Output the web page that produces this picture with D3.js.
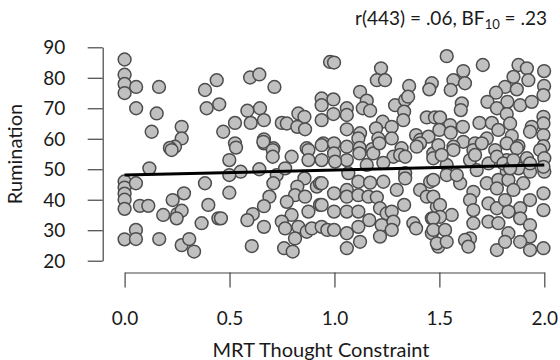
<!DOCTYPE html>
<html>
<head>
<meta charset="utf-8">
<script src="https://cdn.jsdelivr.net/npm/d3@7"></script>
<style>
  html, body { margin: 0; padding: 0; background: #fff; }
  svg { display: block; }
  text { font-family: "Lato", "Open Sans", sans-serif; fill: #1a1a1a; }
</style>
</head>
<body>
<svg id="chart" width="560" height="360"></svg>
<script>
// MRT Thought Constraint (x) values
const mrt = [
  0,0,0,0,0,0,0,0,0,0,
  0.055,0.164,0.055,0.153,0.129,0.272,0.272,0.24,0.216,0.224,0.383,0.391,
  0.118,0.054,0.073,0.113,0.184,0.229,0.283,0.251,0.272,0.248,0.383,0.399,0.367,0.447,0.054,0.054,0.165,0.272,0.308,0.331,
  0.439,0.598,0.642,0.714,0.451,0.585,0.645,0.526,0.601,0.664,0.47,0.749,0.773,0.828,0.857,0.823,0.86,0.526,0.664,0.664,0.709,0.868,0.939,0.939,0.939,0.947,0.979,
  0.531,0.661,0.706,0.706,0.796,0.876,0.876,0.939,0.939,0.499,0.553,0.499,0.642,0.725,0.765,0.709,0.857,0.823,0.916,0.931,0.69,0.812,0.86,0.499,0.664,0.773,0.931,0.611,0.585,0.459,0.796,0.876,0.749,0.765,0.664,0.828,0.812,0.868,0.892,0.939,0.606,0.76,0.801,0.966,
  0.998,1.222,1.202,1.241,1.356,1.464,1.452,1.122,0.995,1.154,1.135,1.17,1.289,1.337,1.351,1.332,1.328,1.059,1.059,0.995,1.23,1.059,1.122,1.114,1.198,1.209,1.273,1.273,1.389,1.408,1.448,1.44,1.479,0.998,1.059,1.12,1.18,1.32,
  0.998,1.059,1.119,1.185,1.154,1.214,1.281,1.313,1.337,1.233,1.408,1.392,1.471,1.066,1.337,1.337,1.114,1.17,1.233,1.297,0.939,0.998,1.059,1.059,1.114,1.162,1.202,1.217,1.249,1.273,1.332,0.939,0.998,1.059,1.114,1.166,1.225,1.281,1.273,0.998,1.059,1.114,1.217,1.122,1.059,1.376,1.389,1.408,1.456,1.44,1.464,1.464,1.495,1.488,
  1.535,1.707,1.614,1.877,1.917,1.999,1.567,1.622,1.554,1.853,1.924,1.999,1.996,1.813,1.869,1.77,1.729,1.824,1.774,1.885,1.94,1.607,1.602,1.821,1.691,1.75,1.837,1.996,1.996,1.503,1.551,1.612,1.5,1.554,1.781,1.94,1.932,1.726,1.845,1.996,1.614,1.67,1.495,1.567,1.877,1.996,
  1.567,1.662,1.702,1.766,1.821,1.869,1.917,1.98,2.0,1.471,1.535,1.535,1.646,1.678,1.734,1.821,1.821,1.877,1.932,2.0,1.599,1.471,1.726,1.781,1.829,1.9,1.662,1.774,1.853,1.996,1.471,1.503,1.559,1.503,1.471,1.646,1.662,1.734,1.774,1.813,1.885,1.932,1.996,1.829,1.885,1.662,1.734,1.781,1.932,1.471,1.527,1.829,1.932,1.646,1.622,1.638,1.488,1.535,1.774,1.813,1.885,1.932,1.996,
  1.003,1.511,1.583,1.67,1.774,1.805,1.837,1.853,1.932,1.996
];
// Rumination (y) values
const rumination = [
  86,81,78,75,46,44,42,40,37,27,
  77,77,70,68.3,62.3,63.9,60.1,57.4,57,56.3,76,70,
  50.3,45.4,38,38,35,39.9,42.1,35.3,36.4,33.9,45.4,38.3,32.3,33.9,30.1,27.1,27.1,25.1,27.1,23,
  79.2,80.1,81.1,77,71.3,69.2,70,65.2,65.2,66.1,62.3,65.2,65,68.3,67.2,63.9,63.1,58.5,59.8,58.5,56.9,56.9,73.2,71,66.1,58.5,85.2,
  57.1,59,56.3,54.1,54.1,56.3,53,57.9,53,53,49.2,48.1,50,48.1,50.3,45.4,47,44.3,44.3,45.4,41,41.5,41,42.3,37.9,39.3,38.3,35.3,33.3,33.9,35,36.1,32.8,30.6,31.1,31.1,27.3,29.5,30.6,31.1,24.8,24.1,23,30.1,
  85,83.1,79.2,79.2,77.3,78.2,76.2,75.4,72.9,72.5,70,69.2,71,72.7,73.8,68.9,66.1,70,67.8,68.1,65.6,63.1,61.8,60.1,63.4,60.1,63.9,60.1,61.2,59.6,60.7,67,67,58.5,57.4,57,56.6,56.9,
  55.2,53,55.2,55.2,51.4,58.5,54.1,54.7,54.1,52.1,58.5,57.4,55.2,48.7,48.7,47,45.9,45.6,45.9,43.2,45.4,42.1,43.2,41,41.5,41,40.8,37.2,35.5,36.1,38.3,38.3,36.1,36.1,36.1,33.3,31.7,32.8,30.1,30.1,29,31.1,27.9,26.2,24.1,32.3,30.6,43.2,45.9,41,33.9,29,24.6,37.7,
  87.1,84.2,82.2,84.2,83.1,82.2,79.2,78.2,76,80.3,79.2,77.3,74.3,77,76.2,75.1,72.1,72.1,70,71,72.1,71.6,69.4,68.1,65.2,65.2,65,67.2,65,67,64.5,63.9,62.9,62,62.9,63.9,62.3,60.1,60.9,61.2,59,58.5,57.9,57.4,57.6,57.6,
  56.3,56.3,58.5,56.3,58.5,56.9,53.6,56.3,53.6,53.6,51.4,48.1,53,49.7,51.9,53,49.2,50.3,49.2,49.2,45.4,46.5,45.4,46.5,46.5,45.4,42.6,43.7,43.2,42.1,41,38.3,35,34.4,33.9,39.9,36.6,38.8,37.2,39.9,37.2,39.9,36.6,36.1,33.9,32.3,32.8,32.3,31.7,30.1,30.1,29,27.9,27.3,26.8,24.6,25.7,26.2,23.5,26.2,26.2,23.5,24.1,
  52.5,54.7,48.1,54.7,54.1,51.9,50.3,53,51.9,50.8
];
// Regression line end points
const regX = [0, 2];
const regY = [48.1, 51.4];
// Tick labels
const xTicks = [0, 0.5, 1, 1.5, 2];
const yTicks = [20, 30, 40, 50, 60, 70, 80, 90];

const svg = d3.select("#chart");
const x = d3.scaleLinear().domain([0, 2]).range([124.6, 544.3]);
const y = d3.scaleLinear().domain([20, 90]).range([260.7, 47.3]);

// X axis
const gx = svg.append("g").attr("transform", "translate(0,272.5)")
  .call(d3.axisBottom(x).tickValues(xTicks).tickFormat(d3.format(".1f")).tickSize(15).tickSizeOuter(0));
gx.select(".domain").attr("stroke", "#444").attr("stroke-width", 1.2);
gx.selectAll(".tick line").attr("stroke", "#444").attr("stroke-width", 1.2);
gx.selectAll(".tick text").attr("y", 46).attr("dy", "0.35em").attr("fill", "#1a1a1a");

// Y axis
const gy = svg.append("g").attr("transform", "translate(102.7,0)")
  .call(d3.axisLeft(y).tickValues(yTicks).tickSize(15).tickSizeOuter(0));
gy.select(".domain").attr("stroke", "#444").attr("stroke-width", 1.2);
gy.selectAll(".tick line").attr("stroke", "#444").attr("stroke-width", 1.2);
gy.selectAll(".tick text").attr("x", -37.5).attr("dy", "0.35em").attr("fill", "#1a1a1a");
svg.selectAll("g").attr("font-family", null).attr("font-size", null);
svg.selectAll(".tick text").style("font-size", "19px");

// Points
const pts = mrt.map((v, i) => [v, rumination[i]]);
svg.append("g").selectAll("circle").data(pts).join("circle")
  .attr("cx", d => x(d[0])).attr("cy", d => y(d[1])).attr("r", 6.4)
  .attr("fill", "#c0c0c0").attr("stroke", "#4d4d4d").attr("stroke-width", 1.5);

// Regression line
svg.append("line")
  .attr("x1", x(regX[0])).attr("y1", y(regY[0]))
  .attr("x2", x(regX[1])).attr("y2", y(regY[1]))
  .attr("stroke", "#000").attr("stroke-width", 3);

// Axis titles
svg.append("text").attr("x", 321).attr("y", 357).attr("text-anchor", "middle")
  .style("font-size", "20px").text("MRT Thought Constraint");
svg.append("text").attr("transform", "translate(22,154) rotate(-90)").attr("text-anchor", "middle")
  .style("font-size", "20px").text("Rumination");

// Annotation
const t = svg.append("text").attr("x", 547).attr("y", 25).attr("text-anchor", "end")
  .style("font-size", "19px");
t.append("tspan").text("r(443) = .06, BF");
t.append("tspan").attr("dy", 4).style("font-size", "13px").text("10");
t.append("tspan").attr("dy", -4).text(" = .23");
</script>
</body>
</html>
